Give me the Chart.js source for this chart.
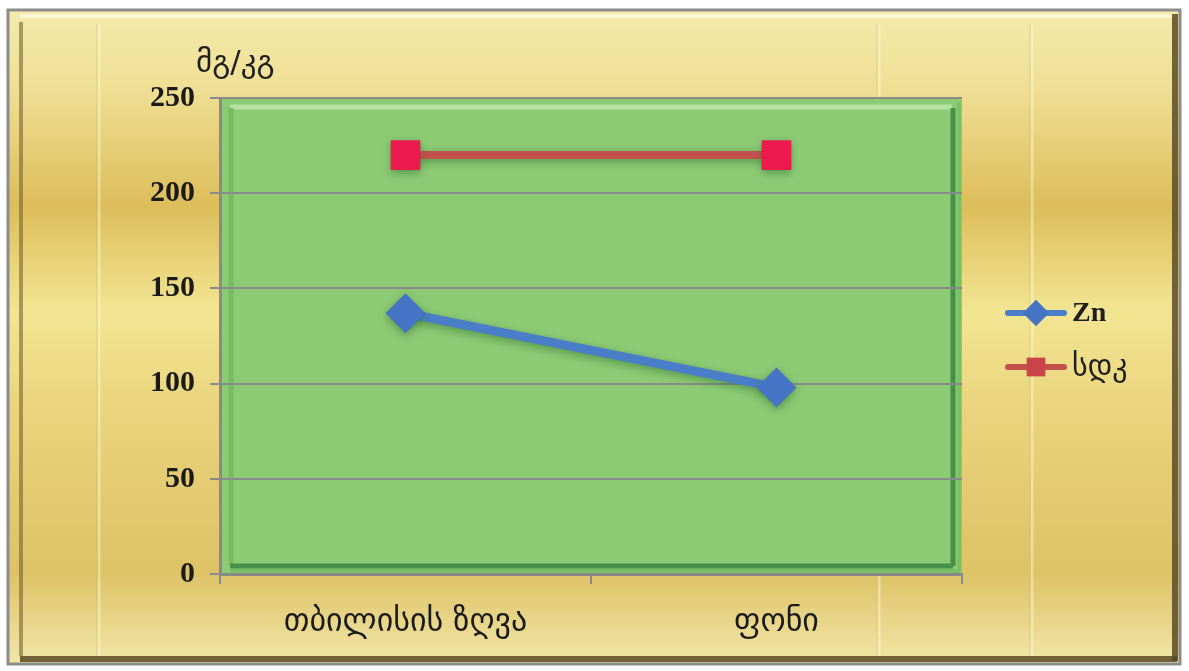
<!DOCTYPE html>
<html lang="ka">
<head>
<meta charset="UTF-8">
<title>Zn</title>
<script src="https://cdn.jsdelivr.net/npm/chart.js"></script>
<style>
  html, body { margin: 0; padding: 0; background: #fff; }
  #wrap { width: 1189px; height: 671px; }
</style>
</head>
<body>
<div id="wrap"><canvas id="chart" width="1189" height="671"></canvas></div>
<script>
// მონაცემები
const categories = ['თბილისის ზღვა', 'ფონი'];
const znValues = [137, 98];
const sdkValues = [220, 220];
const seriesNames = ['Zn', 'სდკ'];
const yTitle = 'მგ/კგ';

const GEO = '"DejaVu Sans", sans-serif';
const SERIF = '"Liberation Serif", "Times New Roman", serif';

// фон: золотая рамка + зелёная область построения
const backdrop = {
  id: 'backdrop',
  beforeDraw(chart) {
    const ctx = chart.ctx;
    const W = chart.width, H = chart.height;
    ctx.save();
    ctx.fillStyle = '#fff';
    ctx.fillRect(0, 0, W, H);

    const x0 = 8, y0 = 10, x1 = 1180, y1 = 664;
    const g = ctx.createLinearGradient(0, y0, 0, y1);
    g.addColorStop(0, '#f4eaac');
    g.addColorStop(0.12, '#efdf94');
    g.addColorStop(0.3, '#dcbd5a');
    g.addColorStop(0.46, '#f2e592');
    g.addColorStop(0.62, '#ead37c');
    g.addColorStop(0.86, '#ddc266');
    g.addColorStop(1, '#f2e6a8');
    ctx.fillStyle = g;
    ctx.fillRect(x0, y0, x1 - x0, y1 - y0);

    // светлые вертикальные полосы
    ctx.strokeStyle = 'rgba(255,250,210,0.45)';
    ctx.lineWidth = 3;
    [99, 879, 1032].forEach(x => {
      ctx.beginPath(); ctx.moveTo(x, y0 + 14); ctx.lineTo(x, y1 - 8); ctx.stroke();
    });
    ctx.strokeStyle = 'rgba(190,160,80,0.35)';
    ctx.lineWidth = 1;
    [97, 877, 1030].forEach(x => {
      ctx.beginPath(); ctx.moveTo(x, y0 + 14); ctx.lineTo(x, y1 - 8); ctx.stroke();
    });

    // фаска рамки
    ctx.strokeStyle = 'rgba(110,90,40,0.55)';
    ctx.lineWidth = 4;
    ctx.beginPath(); ctx.moveTo(21, y0 + 12); ctx.lineTo(21, y1 - 8); ctx.stroke();
    ctx.strokeStyle = 'rgba(90,75,35,0.85)';
    ctx.lineWidth = 6;
    ctx.beginPath(); ctx.moveTo(x1 - 5, y0 + 4); ctx.lineTo(x1 - 5, y1 - 3); ctx.stroke();
    ctx.beginPath(); ctx.moveTo(x0 + 12, y1 - 5); ctx.lineTo(x1 - 3, y1 - 5); ctx.stroke();
    ctx.strokeStyle = 'rgba(255,255,235,0.6)';
    ctx.lineWidth = 4;
    ctx.beginPath(); ctx.moveTo(x0 + 12, y0 + 6); ctx.lineTo(x1 - 8, y0 + 6); ctx.stroke();

    ctx.strokeStyle = '#8c8c8c';
    ctx.lineWidth = 3;
    ctx.strokeRect(x0, y0, x1 - x0, y1 - y0);

    // зелёная область
    const a = chart.chartArea;
    ctx.fillStyle = '#8dca74';
    ctx.fillRect(a.left, a.top, a.right - a.left, a.bottom - a.top);
    ctx.lineWidth = 5;
    ctx.strokeStyle = 'rgba(200,235,180,0.7)';
    ctx.beginPath(); ctx.moveTo(a.left + 10, a.top + 9); ctx.lineTo(a.right - 10, a.top + 9); ctx.stroke();
    ctx.strokeStyle = '#74bc62';
    ctx.beginPath(); ctx.moveTo(a.left + 11, a.top + 10); ctx.lineTo(a.left + 11, a.bottom - 10); ctx.stroke();
    ctx.strokeStyle = '#46914a';
    ctx.beginPath(); ctx.moveTo(a.right - 9, a.top + 10); ctx.lineTo(a.right - 9, a.bottom - 8); ctx.stroke();
    ctx.beginPath(); ctx.moveTo(a.left + 10, a.bottom - 8); ctx.lineTo(a.right - 9, a.bottom - 8); ctx.stroke();
    ctx.strokeStyle = '#79c067';
    ctx.lineWidth = 4;
    ctx.beginPath(); ctx.moveTo(a.left + 10, a.bottom - 3); ctx.lineTo(a.right - 2, a.bottom - 3); ctx.stroke();
    ctx.beginPath(); ctx.moveTo(a.right - 3, a.top + 4); ctx.lineTo(a.right - 3, a.bottom - 3); ctx.stroke();
    ctx.restore();
  },
  beforeDatasetsDraw(chart) {
    // лёгкое свечение вокруг маркеров
    chart.ctx.save();
    chart.ctx.shadowColor = 'rgba(40,110,40,0.55)';
    chart.ctx.shadowBlur = 8;
    chart.ctx.shadowOffsetY = 3;
  },
  afterDatasetsDraw(chart) {
    chart.ctx.restore();
  },
  afterDraw(chart) {
    const ctx = chart.ctx;
    ctx.save();
    // подпись оси Y
    ctx.fillStyle = '#1e1e1e';
    ctx.font = '31px ' + GEO;
    ctx.textAlign = 'left';
    ctx.textBaseline = 'middle';
    ctx.fillText(yTitle, 196, 64);

    // легенда
    const ys = [313, 367];
    chart.data.datasets.forEach((ds, i) => {
      const y = ys[i];
      ctx.strokeStyle = ds.borderColor;
      ctx.lineWidth = 6;
      ctx.lineCap = 'round';
      ctx.beginPath(); ctx.moveTo(1008, y); ctx.lineTo(1064, y); ctx.stroke();
      ctx.fillStyle = i === 0 ? ds.pointBackgroundColor : '#c9444a';
      Chart.helpers.drawPoint(ctx, { pointStyle: ds.pointStyle, radius: 13, borderWidth: 0 }, 1036, y);
      ctx.fill();
      ctx.fillStyle = '#1e1e1e';
      ctx.textBaseline = 'middle';
      ctx.font = i === 0 ? 'bold 28px ' + SERIF : '30px ' + GEO;
      ctx.fillText(ds.label, 1072, y + 1);
    });
    ctx.restore();
  }
};

new Chart(document.getElementById('chart'), {
  type: 'line',
  data: {
    labels: categories,
    datasets: [
      {
        label: seriesNames[0],
        data: znValues,
        borderColor: '#4a7ec8',
        borderWidth: 9,
        pointStyle: 'rectRot',
        pointRadius: 20,
        pointHoverRadius: 20,
        pointBackgroundColor: '#4574c4',
        pointBorderWidth: 0
      },
      {
        label: seriesNames[1],
        data: sdkValues,
        borderColor: '#c4504d',
        borderWidth: 8,
        pointStyle: 'rect',
        pointRadius: 21,
        pointHoverRadius: 21,
        pointBackgroundColor: '#ec1a4e',
        pointBorderWidth: 0
      }
    ]
  },
  options: {
    responsive: false,
    animation: false,
    layout: { padding: { left: 100, right: 227, top: 98, bottom: 17 } },
    plugins: {
      legend: { display: false },
      tooltip: { enabled: false }
    },
    scales: {
      x: {
        offset: true,
        afterFit: s => { s.height = 80; },
        grid: { drawOnChartArea: false, color: '#8a8a8a', lineWidth: 2, tickLength: 10, offset: true },
        border: { color: '#8a8a8a', width: 3 },
        ticks: { color: '#1a1a1a', font: { family: GEO, size: 32, weight: 'normal' }, padding: 19 }
      },
      y: {
        min: 0,
        max: 250,
        afterFit: s => { s.width = 120; },
        ticks: { stepSize: 50, color: '#1a1a1a', font: { family: SERIF, size: 30, weight: 'bold' }, padding: 15 },
        grid: { color: '#8a8a8a', lineWidth: 2, tickLength: 10 },
        border: { color: '#8a8a8a', width: 3 }
      }
    }
  },
  plugins: [backdrop]
});
</script>
</body>
</html>
